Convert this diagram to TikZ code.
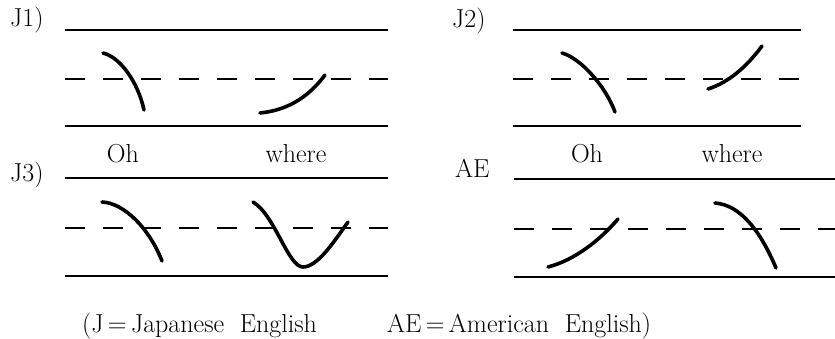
\documentclass[tikz,border=0pt]{standalone}
\begin{document}
\begin{tikzpicture}[x=1pt,y=-1pt,
  staff/.style={line width=2.6pt},
  midline/.style={line width=2.6pt,dash pattern=on 20pt off 18pt},
  contour/.style={line width=3.6pt,line cap=round},
  lbl/.style={font=\fontsize{26}{30}\selectfont,inner sep=0pt}]
  \useasboundingbox (0,0) rectangle (835,339);
  \foreach \a/\b/\t/\m/\u in {65/388/30/79/126, 513/801/30/79/126,
                              65/388/178/228/276, 514/835/179/229/277} {
    \draw[staff] (\a,\t) -- (\b,\t);
    \draw[midline] (\a,\m) -- (\b,\m);
    \draw[staff] (\a,\u) -- (\b,\u);
  }
  \node[lbl,anchor=base west] (j1) at (10,27) {J1)};
  \node[lbl,anchor=base west] (j2) at (452,28) {J2)};
  \node[lbl,anchor=base west] (j3) at (10,182) {J3)};
  \node[lbl,anchor=base west] (ae) at (455,178) {AE};
  \foreach \p/\v/\n in {123/Oh/oha, 296/where/wherea, 587/Oh/ohb, 732/where/whereb}
    \node[lbl,anchor=base] (\n) at (\p,163) {\v};
  \draw[contour] (103,53) .. controls (120,57) and (138,82) .. (144,110);
  \draw[contour] (260,113) .. controls (290,110) and (310,95) .. (325,75);
  \draw[contour] (562,53) .. controls (580,58) and (605,85) .. (615,112);
  \draw[contour] (708,89) .. controls (730,82) and (748,65) .. (762,46);
  \draw[contour] (102,202) .. controls (125,203) and (150,230) .. (162,261);
  \draw[contour] (253,202) .. controls (275,215) and (288,267) .. (303,267)
    .. controls (318,267) and (335,240) .. (348,222);
  \draw[contour] (548,267) .. controls (575,260) and (600,240) .. (618,219);
  \draw[contour] (715,203) .. controls (740,205) and (760,230) .. (776,268);
  \node[lbl,anchor=base west] (keyj) at (82,332) {(J\,=\,Japanese\ \ English};
  \node[lbl,anchor=base west] (keyae) at (387,332) {AE\,=\,American\ \ English)};
\end{tikzpicture}
\end{document}
